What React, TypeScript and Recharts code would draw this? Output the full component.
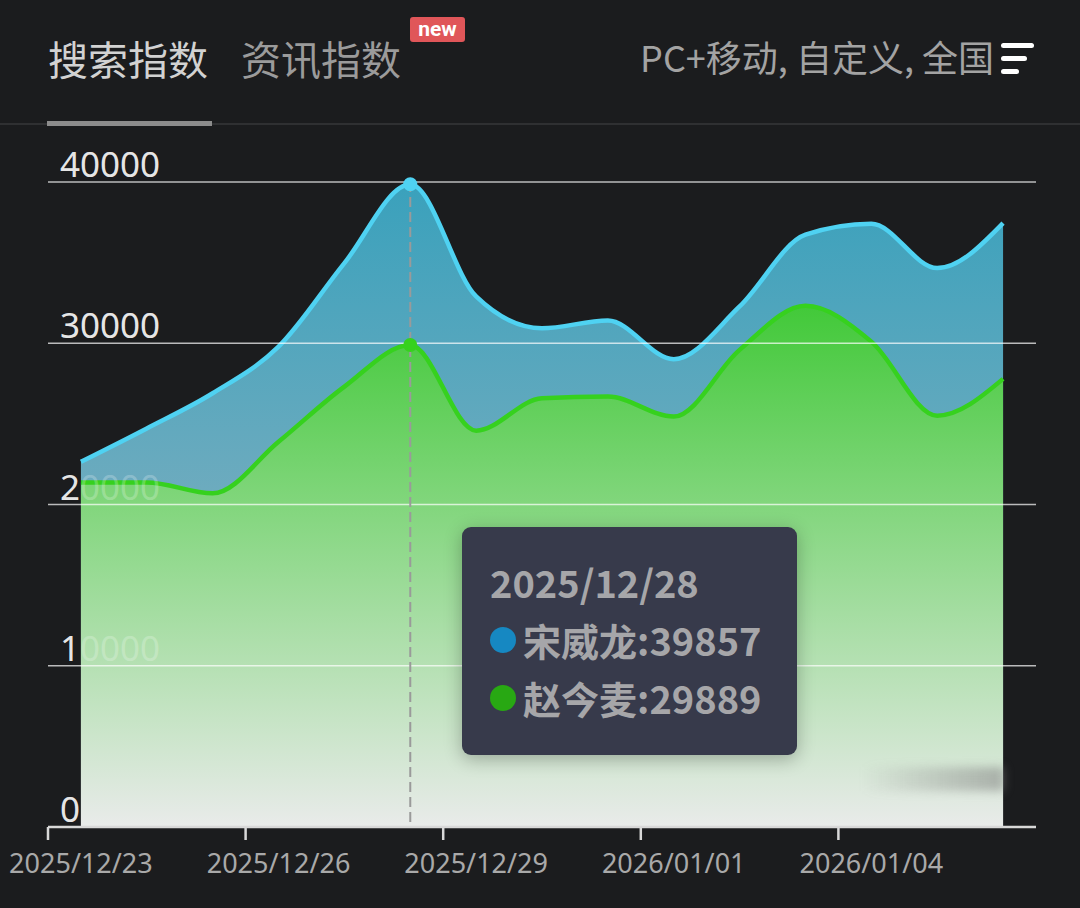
import { AreaChart, Area, XAxis, YAxis, CartesianGrid, Tooltip } from 'recharts'

const dates = [
  '2025/12/23', '2025/12/24', '2025/12/25', '2025/12/26', '2025/12/27',
  '2025/12/28', '2025/12/29', '2025/12/30', '2025/12/31', '2026/01/01',
  '2026/01/02', '2026/01/03', '2026/01/04', '2026/01/05', '2026/01/06',
]
const songWeilong = [22650, 24720, 26900, 29790, 34970, 39857, 32900, 30930, 31410, 29010, 32280, 36730, 37410, 34660, 37450]
const zhaoJinmai = [21370, 21370, 20690, 23890, 27310, 29889, 24580, 26590, 26690, 25450, 29590, 32320, 30100, 25510, 27790]
const yTicks = [0, 10000, 20000, 30000, 40000]

const seriesNames = ['宋威龙', '赵今麦']
const tabs = ['搜索指数', '资讯指数']
const filterText = 'PC+移动, 自定义, 全国'

const data = dates.map((d, i) => ({ date: d, song: songWeilong[i], zhao: zhaoJinmai[i] }))

const W = 1080
const H = 908
const M = { top: 182, right: 44, bottom: 80, left: 47 }
const BAND = (W - 48 - M.right) / dates.length

const BG = '#1b1c1e'
const BLUE_LINE = '#4fd2f2'
const GREEN_LINE = '#36d11e'

const renderXTick = (props: any) => {
  const { x, y, index, payload } = props
  const left = x - BAND / 2
  return (
    <g key={`xt-${index}`}>
      <line x1={left} x2={left} y1={y} y2={y + 13} stroke="#d8d8d8" strokeWidth={2.5} />
      {index === 12 && (
        <line x1={x + BAND * 2.5} x2={x + BAND * 2.5} y1={y} y2={y + 13} stroke="#d8d8d8" strokeWidth={2.5} />
      )}
      <text x={x} y={y + 46} textAnchor="middle" fill="#a9a9a9" fontSize={27} fontFamily="Noto Sans, sans-serif">
        {payload.value}
      </text>
    </g>
  )
}

// y labels: a solid copy under the areas, a faint copy on top so they show through
const yTickWith = (fill: string) => (props: any) => {
  const { y, payload, index } = props
  return (
    <text key={`yt-${index}`} x={60} y={y - 5} textAnchor="start" fill={fill} fontSize={35} fontFamily="Noto Sans, sans-serif">
      {payload.value}
    </text>
  )
}
const renderYTick = yTickWith('#dedede')
const renderYTickFaint = yTickWith('rgba(255,255,255,0.24)')

const renderNoTick = (props: any) => <g key={`nt-${props.index}`} />

function TipBox({ payload, label }: any) {
  if (!payload || !payload.length) return null
  const dotColors = ['#1688c2', '#28a813']
  return (
    <div
      style={{
        width: 335,
        height: 228,
        boxSizing: 'border-box',
        background: '#373a4b',
        borderRadius: 9,
        boxShadow: '0 4px 18px rgba(0,0,0,0.28)',
        padding: '26px 0 0 28px',
        color: '#a6a6a9',
        fontFamily: '"Noto Sans CJK SC", sans-serif',
        fontWeight: 700,
        fontSize: 38,
        lineHeight: '58px',
      }}
    >
      <div>{label}</div>
      {payload.map((p: any, i: number) => (
        <div key={i} style={{ display: 'flex', alignItems: 'center' }}>
          <span
            style={{
              width: 26,
              height: 26,
              borderRadius: 13,
              background: dotColors[i],
              display: 'inline-block',
              marginRight: 7,
            }}
          />
          <span>{seriesNames[i]}:{p.value}</span>
        </div>
      ))}
    </div>
  )
}

export default function App() {
  return (
    <div style={{ position: 'fixed', left: 0, top: 0, width: W, height: H, background: BG, overflow: 'hidden' }}>
      {/* Tabs */}
      <div
        style={{
          position: 'absolute', left: 48, top: 28, fontSize: 40, color: '#d2d2d2',
          fontFamily: '"Noto Sans CJK SC", sans-serif', lineHeight: '60px',
        }}
      >
        {tabs[0]}
      </div>
      <div
        style={{
          position: 'absolute', left: 241, top: 28, fontSize: 40, color: '#9b9b9b',
          fontFamily: '"Noto Sans CJK SC", sans-serif', lineHeight: '60px',
        }}
      >
        {tabs[1]}
      </div>
      <div
        style={{
          position: 'absolute', left: 410, top: 17, width: 55, height: 25, background: '#e05659',
          borderRadius: 3, color: '#fff', fontSize: 21, fontWeight: 700, textAlign: 'center',
          lineHeight: '24px', fontFamily: 'Roboto, sans-serif',
        }}
      >
        new
      </div>
      <div style={{ position: 'absolute', left: 0, top: 123, width: W, height: 2, background: '#2f3032' }} />
      <div style={{ position: 'absolute', left: 47, top: 121, width: 165, height: 5, background: '#8c8c8c' }} />
      <div
        style={{
          position: 'absolute', right: 86, top: 31, fontSize: 36, color: '#a3a3a3',
          fontFamily: '"Noto Sans CJK SC", sans-serif', lineHeight: '50px', whiteSpace: 'nowrap',
        }}
      >
        {filterText}
      </div>
      {/* filter icon */}
      <div style={{ position: 'absolute', left: 1001, top: 43, width: 33, height: 5, borderRadius: 3, background: '#fff' }} />
      <div style={{ position: 'absolute', left: 1001, top: 56, width: 26, height: 5, borderRadius: 3, background: '#fff' }} />
      <div style={{ position: 'absolute', left: 1001, top: 69, width: 18, height: 5, borderRadius: 3, background: '#fff' }} />

      {/* y labels sit underneath the areas */}
      <div style={{ position: 'absolute', left: 0, top: 0 }}>
        <AreaChart width={W} height={H} data={data} margin={M}>
          <YAxis
            width={1}
            domain={[0, 40000]}
            ticks={yTicks}
            axisLine={false}
            tickLine={false}
            tickSize={0}
            tickMargin={0}
            tick={renderYTick}
            interval={0}
          />
          <XAxis dataKey="date" scale="band" height={1} axisLine={false} tickLine={false} tick={renderNoTick} />
          <Area dataKey="song" stroke="none" fill="none" dot={false} activeDot={false} isAnimationActive={false} />
        </AreaChart>
      </div>

      <div style={{ position: 'absolute', left: 0, top: 0 }}>
        <AreaChart width={W} height={H} data={data} margin={M}>
          <defs>
            <linearGradient id="gSong" x1="0" y1="0" x2="0" y2="1">
              <stop offset="0%" stopColor="#3aa1bc" />
              <stop offset="100%" stopColor="#a4b6c1" />
            </linearGradient>
            <linearGradient id="gZhao" x1="0" y1="0" x2="0" y2="1">
              <stop offset="0%" stopColor="#42c939" />
              <stop offset="100%" stopColor="#e9ebea" />
            </linearGradient>
          </defs>
          <YAxis
            width={1}
            domain={[0, 40000]}
            ticks={yTicks}
            interval={0}
            axisLine={false}
            tickLine={false}
            tickSize={0}
            tickMargin={0}
            tick={renderYTickFaint}
          />
          <Area
            type="monotone"
            dataKey="song"
            stroke={BLUE_LINE}
            strokeWidth={4.5}
            fill="url(#gSong)"
            fillOpacity={1}
            dot={false}
            activeDot={{ r: 6, fill: BLUE_LINE, stroke: BLUE_LINE, strokeWidth: 2 }}
            isAnimationActive={false}
          />
          <Area
            type="monotone"
            dataKey="zhao"
            stroke={GREEN_LINE}
            strokeWidth={4.5}
            fill="url(#gZhao)"
            fillOpacity={1}
            dot={false}
            activeDot={{ r: 6, fill: GREEN_LINE, stroke: GREEN_LINE, strokeWidth: 2 }}
            isAnimationActive={false}
          />
          <CartesianGrid vertical={false} stroke="rgba(255,255,255,0.7)" strokeWidth={1.5} zIndex={150} />
          <XAxis
            dataKey="date"
            scale="band"
            height={1}
            interval={2}
            axisLine={{ stroke: '#d8d8d8', strokeWidth: 2.5 }}
            tickLine={false}
            tickSize={0}
            tickMargin={0}
            tick={renderXTick}
          />
          <Tooltip
            active={true}
            defaultIndex={5}
            position={{ x: 462, y: 527 }}
            cursor={{ stroke: '#9a9a9a', strokeWidth: 2, strokeDasharray: '10 5' }}
            content={<TipBox />}
            isAnimationActive={false}
            wrapperStyle={{ outline: 'none' }}
          />
        </AreaChart>
      </div>

      {/* blurred streak near the lower right */}
      <div
        style={{
          position: 'absolute', left: 862, top: 767, width: 142, height: 24,
          background: 'linear-gradient(to right, rgba(120,120,120,0), rgba(120,120,120,0.5))',
          filter: 'blur(5px)', pointerEvents: 'none',
        }}
      />
    </div>
  )
}
